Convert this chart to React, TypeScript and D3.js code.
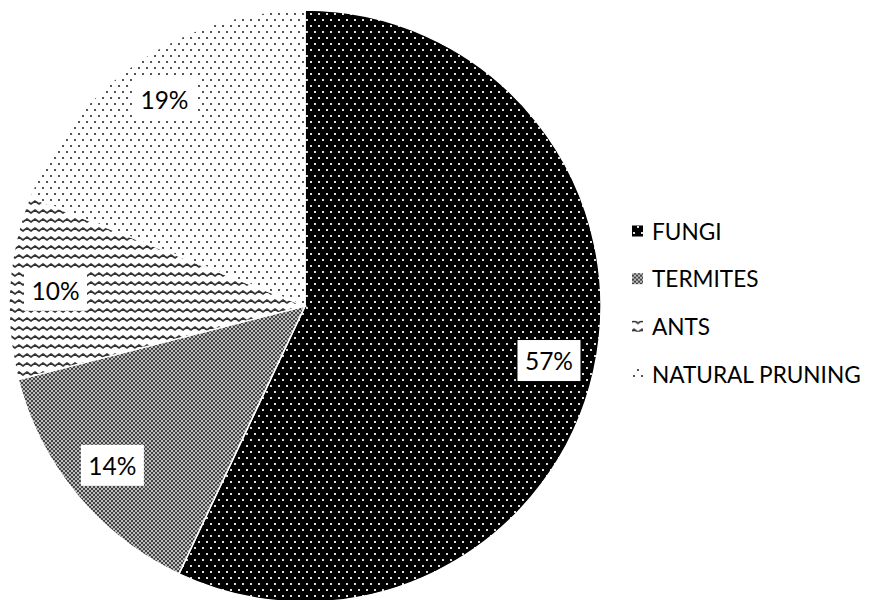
import React from "react";
import * as d3 from "d3";

const categories = ["FUNGI", "TERMITES", "ANTS", "NATURAL PRUNING"];
const values = [57, 14, 10, 19];
const labels = ["57%", "14%", "10%", "19%"];
const patternIds = ["pFungi", "pTermites", "pAnts", "pPruning"];

const W = 871;
const H = 600;
const cx = 305;
const cy = 306;
const R = 296;
const labelR = 250;
const FONT = "Lato, 'Open Sans', sans-serif";

export default function App() {
  const pie = d3.pie<number>().sort(null).value((d) => d)(values);
  const arc = d3.arc<d3.PieArcDatum<number>>().innerRadius(0).outerRadius(R);
  const labelArc = d3.arc<d3.PieArcDatum<number>>().innerRadius(labelR).outerRadius(labelR);
  const legendY = d3.scalePoint<string>().domain(categories).range([231, 374]);

  return (
    <svg width={W} height={H} style={{ position: "absolute", left: 0, top: 0, background: "#fff" }}>
      <defs>
        <pattern id="pFungi" patternUnits="userSpaceOnUse" width={8} height={12}>
          <rect width={8} height={12} fill="#000" />
          <rect x={1} y={1} width={2} height={2} fill="#e0e0e0" />
          <rect x={5} y={7} width={2} height={2} fill="#e0e0e0" />
        </pattern>
        <pattern id="pPruning" patternUnits="userSpaceOnUse" width={8} height={12}>
          <rect width={8} height={12} fill="#fff" />
          <rect x={1} y={1} width={2} height={2} fill="#555" />
          <rect x={5} y={7} width={2} height={2} fill="#555" />
        </pattern>
        <pattern id="pTermites" patternUnits="userSpaceOnUse" width={4} height={4}>
          <rect width={4} height={4} fill="#bdbdbd" />
          <rect x={0} y={0} width={2} height={2} fill="#444" />
          <rect x={2} y={2} width={2} height={2} fill="#444" />
        </pattern>
        <pattern id="pAnts" patternUnits="userSpaceOnUse" width={8} height={9}>
          <rect width={8} height={9} fill="#fff" />
          <path d="M-2 6 L0 4.5 L2 3 L4 4.5 L6 6 L8 4.5 L10 3" fill="none" stroke="#333" strokeWidth={1.7} strokeLinejoin="round" />
        </pattern>
      </defs>
      <g>
        {pie.map((d, i) => (
          <path
            key={categories[i]}
            d={arc(d) || ""}
            transform={`translate(${cx},${cy})`}
            fill={`url(#${patternIds[i]})`}
            stroke="#fff"
            strokeWidth={1.5}
          />
        ))}
      </g>
      <g fontFamily={FONT} fontSize={24.5}>
        {pie.map((d, i) => {
          const [lx, ly] = labelArc.centroid(d);
          return (
            <g key={labels[i]} transform={`translate(${cx + lx},${cy + ly})`}>
              <rect x={-31.5} y={-20.5} width={63} height={41} fill="#fff" />
              <text textAnchor="middle" dominantBaseline="central" fill="#000">
                {labels[i]}
              </text>
            </g>
          );
        })}
      </g>
      <g fontFamily={FONT} fontSize={22.6}>
        {categories.map((c, i) => (
          <g key={c} transform={`translate(632,${legendY(c)})`}>
            <rect x={0} y={-5.5} width={11} height={11} fill={`url(#${patternIds[i]})`} />
            <text x={20} dominantBaseline="central" fill="#000">
              {c}
            </text>
          </g>
        ))}
      </g>
    </svg>
  );
}
